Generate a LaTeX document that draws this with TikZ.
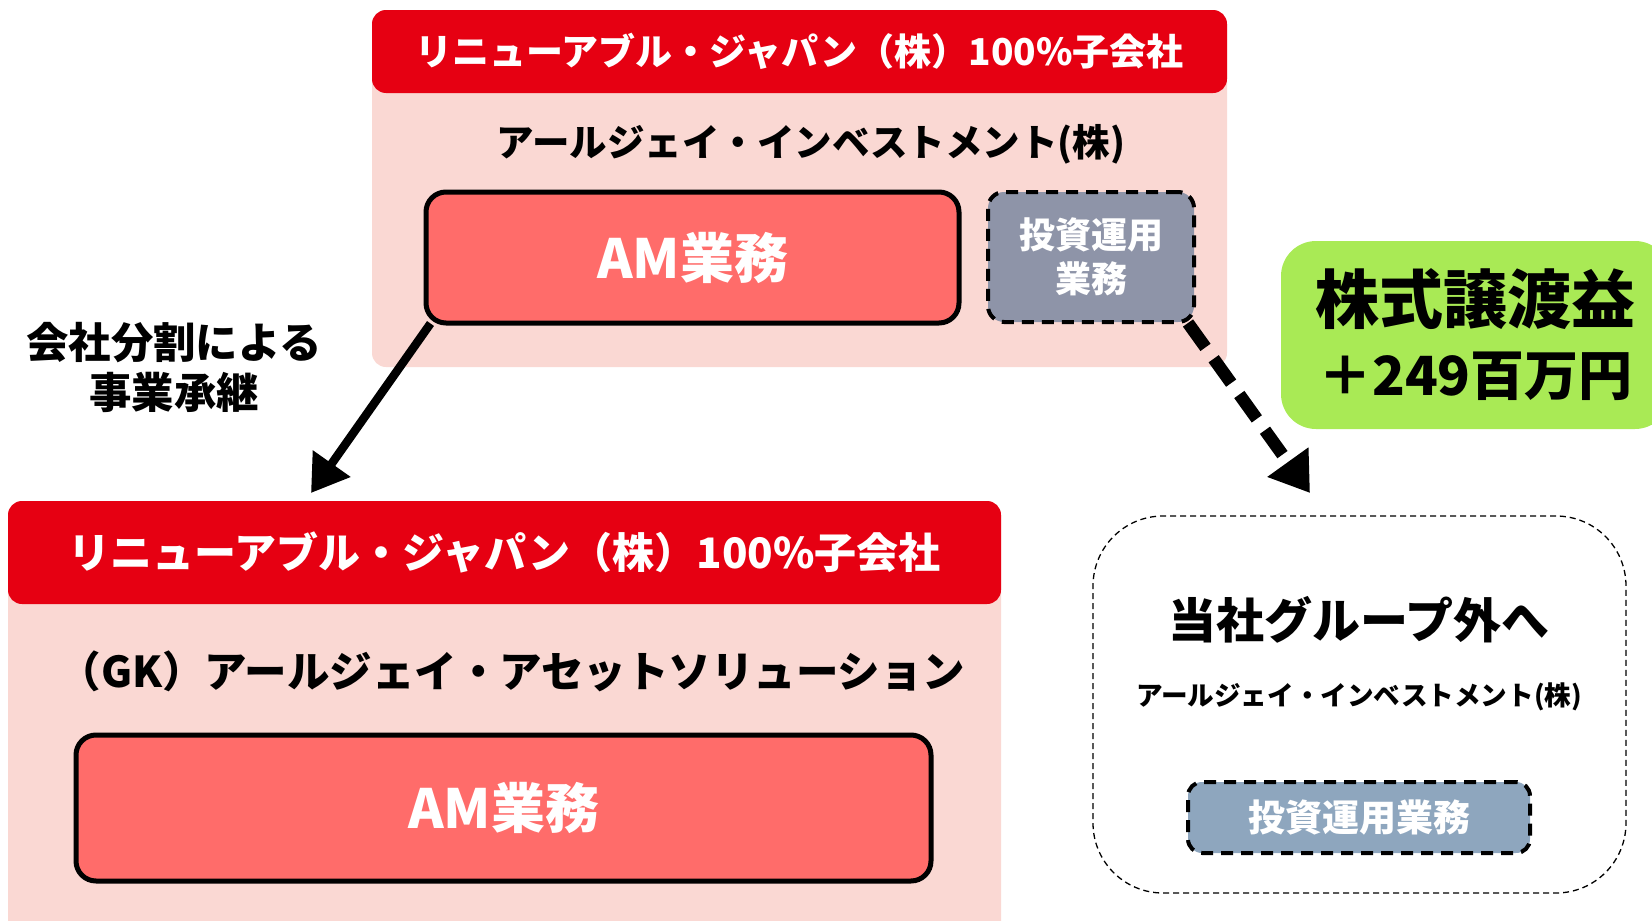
\documentclass[tikz,border=0pt]{standalone}
\usepackage{fontspec}
\setmainfont{Noto Sans CJK JP}
\usetikzlibrary{arrows.meta}
\definecolor{hdrred}{HTML}{E60012}
\definecolor{pinkbg}{HTML}{FAD8D3}
\definecolor{amred}{HTML}{FF6C6A}
\definecolor{grayone}{HTML}{8E94A8}
\definecolor{graytwo}{HTML}{8EA6BE}
\definecolor{greenbox}{HTML}{A9EA55}
\begin{document}
\begin{tikzpicture}[x=1pt,y=-1pt,font=\bfseries,
  pinkbox/.style={fill=pinkbg,draw=none,rounded corners=14pt,inner sep=0pt},
  hdrbox/.style={fill=hdrred,draw=none,rounded corners=14pt,inner sep=0pt,text=white},
  ambox/.style={fill=amred,draw=black,line width=5pt,rounded corners=20pt,inner sep=0pt,text=white,font=\bfseries\fontsize{54}{60}\selectfont},
  invbox/.style={draw=black,line width=4pt,dash pattern=on 12pt off 8pt,rounded corners=16pt,inner sep=0pt,text=white,align=center},
  solidarrow/.style={line width=8.5pt,-{Triangle[width=44pt,length=36pt]}},
  dasharrow/.style={line width=12.5pt,dash pattern=on 30pt off 14pt,-{Triangle[width=48pt,length=38pt]}},
  fsz/.style={font=\bfseries\fontsize{#1}{#1}\selectfont}
]
\useasboundingbox (0,0) rectangle (1652,921);
% top group
\node[pinkbox,minimum width=855pt,minimum height=357pt] (pinkA) at (799.5,188.5) {};
\node[hdrbox,minimum width=855pt,minimum height=83pt,fsz=37] (hdrA) at (799.5,51.5) {リニューアブル・ジャパン（株）100\%子会社};
\node[fsz=37.5] (nameA) at (811,144) {アールジェイ・インベストメント(株)};
\node[ambox,minimum width=533pt,minimum height=131pt] (amA) at (692.5,257.5) {AM業務};
\node[invbox,fill=grayone,minimum width=206pt,minimum height=130pt,font=\bfseries\fontsize{36}{44}\selectfont] (invA) at (1091,257) {投資運用\\業務};
% bottom left group
\node[pinkbox,minimum width=993pt,minimum height=434pt] (pinkB) at (504.5,718) {};
\node[hdrbox,minimum width=993pt,minimum height=103pt,fsz=42] (hdrB) at (504.5,552.5) {リニューアブル・ジャパン（株）100\%子会社};
\node[fsz=42.5] (nameB) at (512,671) {（GK）アールジェイ・アセットソリューション};
\node[ambox,minimum width=855pt,minimum height=146pt] (amB) at (503.5,808) {AM業務};
% label
\node[align=center,font=\bfseries\fontsize{42.4}{50}\selectfont] (lbl) at (174,367) {会社分割による\\事業承継};
% green
\node[fill=greenbox,rounded corners=35pt,minimum width=389pt,minimum height=188pt,inner sep=0pt,align=center,font=\bfseries\fontsize{64}{72}\selectfont] (gain) at (1475.5,335) {株式譲渡益\\{\fontsize{54}{62}\selectfont ＋249百万円}};
% outside group
\node[draw=black,line width=1.3pt,dash pattern=on 6pt off 4pt,rounded corners=70pt,minimum width=533pt,minimum height=377pt,inner sep=0pt] (outC) at (1359.5,704.5) {};
\node[fsz=48] (titleC) at (1359,620) {当社グループ外へ};
\node[fsz=26.6] (nameC) at (1359,697) {アールジェイ・インベストメント(株)};
\node[invbox,fill=graytwo,minimum width=342pt,minimum height=71pt,rounded corners=14pt,font=\bfseries\fontsize{37}{44}\selectfont] (invC) at (1359,817.5) {投資運用業務};
% arrows
\coordinate (endA) at (311,493);
\coordinate (endC) at (1310,493);
\draw[solidarrow] ([xshift=7pt,yshift=2pt]amA.south west) -- (endA);
\draw[dasharrow] ([xshift=-8pt,yshift=1pt]invA.south east) -- (endC);
\end{tikzpicture}
\end{document}
